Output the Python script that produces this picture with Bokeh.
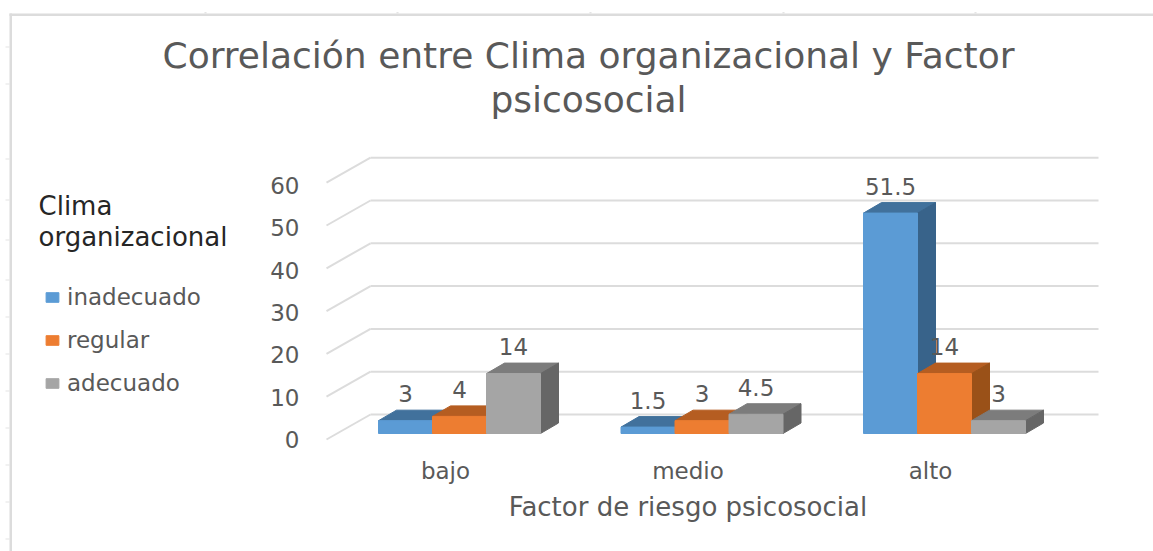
from bokeh.embed import file_html
from bokeh.resources import INLINE
from bokeh.plotting import figure
from bokeh.models import (Range1d, LinearAxis, FixedTicker, Legend, LegendItem, Label,
                          BoxAnnotation, ColumnDataSource)
from bokeh.core.properties import value

categories = ["bajo", "medio", "alto"]
series = ["inadecuado", "regular", "adecuado"]
inadecuado = [3, 1.5, 51.5]
regular = [4, 3, 14]
adecuado = [14, 4.5, 3]
data_labels = [["3", "1.5", "51.5"], ["4", "3", "14"], ["14", "4.5", "3"]]
y_ticks = [0, 10, 20, 30, 40, 50, 60]
title_lines = ["Correlación entre Clima organizacional y Factor", "psicosocial"]
legend_title_lines = ["Clima", "organizacional"]
x_title = "Factor de riesgo psicosocial"

front_colors = ["#5B9BD5", "#ED7D31", "#A5A5A5"]
top_colors = ["#41719C", "#B55D21", "#7C7C7C"]
side_colors = ["#38638A", "#9A5118", "#666666"]
TEXT = "#595959"
GRID = "#DCDCDC"
FONT = "DejaVu Sans"

W, H = 1153, 551
PX_X, PX_Y = 242.5, 4.28
X0, Y0 = 459, 433
LAB_PX_Y = 4.233
BAR_PX, DX_PX, DY_PX = 54, 18, 10.5

p = figure(width=W, height=H, output_backend="svg", toolbar_location=None,
           x_range=Range1d((0 - X0) / PX_X, (W - X0) / PX_X),
           y_range=Range1d((Y0 - H) / PX_Y, (Y0 - 0) / PX_Y),
           x_axis_location=None, y_axis_location=None,
           min_border=0)
p.outline_line_color = None
p.grid.visible = False

# real axes, on ranges of their own: the front edge of the 3D floor
p.extra_y_ranges = {"front": Range1d((439 - H) / LAB_PX_Y, 439 / LAB_PX_Y)}
p.extra_x_ranges = {"front": Range1d((0 - X0 + 14) / PX_X, (W - X0 + 14) / PX_X)}
yax = LinearAxis(y_range_name="front", ticker=FixedTicker(ticks=y_ticks),
                 fixed_location=(323 - X0) / PX_X)
yax.axis_line_color = None
yax.major_tick_line_color = None
yax.minor_tick_line_color = None
yax.major_label_text_color = TEXT
yax.major_label_text_font = FONT
yax.major_label_text_font_size = "23px"
yax.major_label_standoff = 18
p.add_layout(yax, "left")

xax = LinearAxis(x_range_name="front", ticker=FixedTicker(ticks=[0, 1, 2]),
                 major_label_overrides={i: c for i, c in enumerate(categories)},
                 fixed_location=(Y0 - 445) / PX_Y, bounds=(0, 2))
xax.axis_line_color = None
xax.major_tick_line_color = None
xax.minor_tick_line_color = None
xax.major_label_text_color = TEXT
xax.major_label_text_font = FONT
xax.major_label_text_font_size = "23px"
xax.major_label_standoff = 6
xax.axis_label = x_title
xax.axis_label_text_color = TEXT
xax.axis_label_text_font = FONT
xax.axis_label_text_font_size = "26px"
xax.axis_label_text_font_style = "normal"
xax.axis_label_standoff = 5
p.add_layout(xax, "below")

# back wall and floor lines
wall_left = (370 - X0) / PX_X
wall_right = (1098 - X0) / PX_X
front_left = (326 - X0) / PX_X
wall_up = 19 / PX_Y
front_down = 6 / PX_Y
p.segment(x0=[wall_left] * 7, x1=[wall_right] * 7,
          y0=[t + wall_up for t in y_ticks], y1=[t + wall_up for t in y_ticks],
          line_color=GRID, line_width=2)
p.segment(x0=[wall_left] * 7, x1=[front_left] * 7,
          y0=[t + wall_up for t in y_ticks], y1=[t - front_down for t in y_ticks],
          line_color=GRID, line_width=2)

bw = BAR_PX / PX_X
dx = DX_PX / PX_X
dy = DY_PX / PX_Y
legend_items = []
all_values = [inadecuado, regular, adecuado]
for s, vals in enumerate(all_values):
    cx = [i + (s - 1) * bw for i in range(3)]
    top_xs = [[c - bw / 2, c + bw / 2, c + bw / 2 + dx, c - bw / 2 + dx] for c in cx]
    top_ys = [[v, v, v + dy, v + dy] for v in vals]
    p.patches(top_xs, top_ys, fill_color=top_colors[s], line_color=top_colors[s], line_width=1)
    side_xs = [[c + bw / 2, c + bw / 2 + dx, c + bw / 2 + dx, c + bw / 2] for c in cx]
    side_ys = [[0, dy, v + dy, v] for v in vals]
    p.patches(side_xs, side_ys, fill_color=side_colors[s], line_color=side_colors[s], line_width=1)
    r = p.vbar(x=cx, top=vals, bottom=0, width=bw, fill_color=front_colors[s],
               line_color=front_colors[s], line_width=1)
    legend_items.append(LegendItem(label=series[s], renderers=[r]))

for s, vals in enumerate(all_values):
    cx = [i + (s - 1) * bw for i in range(3)]
    src = ColumnDataSource(dict(x=cx, y=vals, t=data_labels[s]))
    p.text(x="x", y="y", text="t", source=src, text_align="center", text_baseline="middle",
           y_offset=-27, text_color=TEXT, text_font=value(FONT), text_font_size="23px")

legend = Legend(items=legend_items, location=(44, H - 396), orientation="vertical",
                spacing=17, padding=0, margin=0, glyph_width=16, glyph_height=12,
                label_standoff=7, label_height=20, label_text_color=TEXT,
                label_text_font=FONT, label_text_font_size="23px",
                border_line_color=None, background_fill_alpha=0)
p.add_layout(legend, "center")

def canvas_label(text, x, y, size, color, align="left"):
    p.add_layout(Label(x=x, y=y, x_units="canvas", y_units="canvas", text=text,
                       text_font=FONT, text_font_size=size, text_color=color,
                       text_align=align, text_baseline="middle"))

canvas_label(title_lines[0], 588, 55, "36px", TEXT, "center")
canvas_label(title_lines[1], 588, 99, "36px", TEXT, "center")
canvas_label(legend_title_lines[0], 38, 205, "26px", "#262626")
canvas_label(legend_title_lines[1], 38, 236, "26px", "#262626")

# the sheet's faint edges and ruler marks
def sheet_box(l, r, t, b, color):
    p.add_layout(BoxAnnotation(left=l, right=r, top=t, bottom=b,
                               left_units="canvas", right_units="canvas",
                               top_units="canvas", bottom_units="canvas",
                               fill_color=color, fill_alpha=1, line_color=None))

sheet_box(9, 11.5, 13, 551, GRID)
sheet_box(9, 1153, 13, 15.5, GRID)
for y_mark in [46, 83, 158, 199, 239, 279, 316, 353, 390, 427, 464, 501, 538]:
    sheet_box(5, 9, y_mark, y_mark + 1, "#E4E4E4")
for x_mark in [204, 396, 589, 782, 974]:
    sheet_box(x_mark, x_mark + 2, 11.5, 13, "#E4E4E4")

open("out.html", "w").write(file_html(p, INLINE))
